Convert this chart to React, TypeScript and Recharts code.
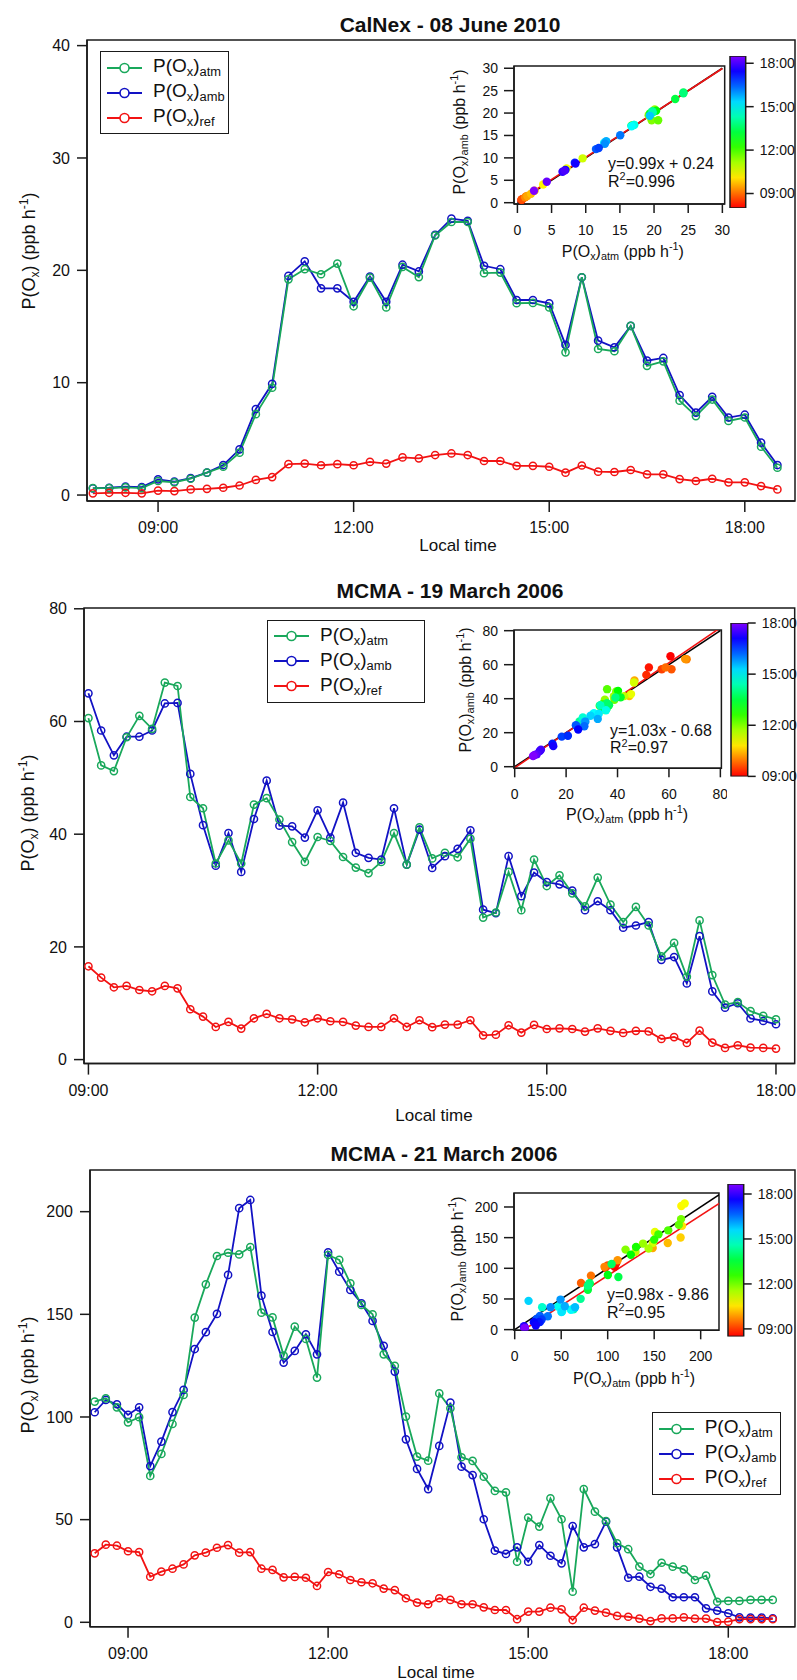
import React from "react";
import {
  LineChart, Line, XAxis, YAxis, Legend, ReferenceArea, ReferenceLine,
  ScatterChart, Scatter, ComposedChart, Bar,
} from "recharts";

const FONT = "'Liberation Sans', Arial, Helvetica, sans-serif";
const INK = "#1a1a1a";
const GREEN = "#19a85b";
const BLUE = "#1212c4";
const RED = "#f21313";

// ---------- CalNex, 08 June 2010 (15 min samples) ----------
const calnexTimes = [
  "08:00", "08:15", "08:30", "08:45", "09:00", "09:15", "09:30", "09:45",
  "10:00", "10:15", "10:30", "10:45", "11:00", "11:15", "11:30", "11:45",
  "12:00", "12:15", "12:30", "12:45", "13:00", "13:15", "13:30", "13:45",
  "14:00", "14:15", "14:30", "14:45", "15:00", "15:15", "15:30", "15:45",
  "16:00", "16:15", "16:30", "16:45", "17:00", "17:15", "17:30", "17:45",
  "18:00", "18:15", "18:30",
];
const calnexAtm = [
  0.62, 0.62, 0.68, 0.62, 1.25, 1.13, 1.45, 1.99, 2.52, 3.77, 7.2, 9.55,
  19.2, 20.1, 19.65, 20.6, 16.8, 19.35, 16.7, 20.3, 19.4, 23.1, 24.3, 24.3,
  19.75, 19.8, 17.07, 17.1, 16.7, 12.7, 19.38, 13.0, 12.8, 15.05, 11.5, 11.9,
  8.4, 7.03, 8.5, 6.6, 6.9, 4.3, 2.43,
];
const calnexAmb = [
  0.6, 0.65, 0.75, 0.7, 1.4, 1.19, 1.5, 1.99, 2.67, 4.07, 7.66, 9.9,
  19.5, 20.8, 18.4, 18.4, 17.2, 19.45, 17.2, 20.5, 19.9, 23.15, 24.6, 24.4,
  20.4, 20.1, 17.36, 17.36, 17.07, 13.36, 19.38, 13.74, 13.15, 15.05, 11.96, 12.2,
  8.9, 7.33, 8.75, 6.9, 7.15, 4.66, 2.67,
];
const calnexRef = [
  0.15, 0.2, 0.2, 0.15, 0.4, 0.35, 0.5, 0.55, 0.65, 0.85, 1.35, 1.6,
  2.75, 2.8, 2.65, 2.75, 2.65, 2.95, 2.8, 3.35, 3.27, 3.56, 3.7, 3.56,
  3.03, 3.03, 2.6, 2.6, 2.52, 1.99, 2.63, 2.08, 2.05, 2.23, 1.84, 1.84,
  1.42, 1.25, 1.45, 1.13, 1.13, 0.8, 0.5,
];
const calnexFit = { slope: 0.99, intercept: 0.24, eq: "y=0.99x + 0.24", r2: "0.996" };

// ---------- MCMA, 19 March 2006 (10 min samples) ----------
const mar19Times = [
  "09:00", "09:10", "09:20", "09:30", "09:40", "09:50",
  "10:00", "10:10", "10:20", "10:30", "10:40", "10:50",
  "11:00", "11:10", "11:20", "11:30", "11:40", "11:50",
  "12:00", "12:10", "12:20", "12:30", "12:40", "12:50",
  "13:00", "13:10", "13:20", "13:30", "13:40", "13:50",
  "14:00", "14:10", "14:20", "14:30", "14:40", "14:50",
  "15:00", "15:10", "15:20", "15:30", "15:40", "15:50",
  "16:00", "16:10", "16:20", "16:30", "16:40", "16:50",
  "17:00", "17:10", "17:20", "17:30", "17:40", "17:50",
  "18:00",
];
const mar19Atm = [
  60.6, 52.2, 51.2, 57.2, 61.0, 58.7,
  66.9, 66.3, 46.6, 44.6, 34.8, 38.9,
  34.8, 45.25, 46.4, 42.6, 38.6, 35.07,
  39.5, 38.8, 35.95, 34.07, 33.1, 35.07,
  40.2, 34.6, 41.2, 35.7, 36.7, 35.9,
  39.2, 25.2, 26.1, 33.3, 26.5, 35.5,
  30.8, 32.7, 29.5, 27.2, 32.3, 27.5,
  24.4, 27.1, 23.8, 18.3, 20.7, 14.7,
  24.7, 15.0, 9.76, 10.2, 8.6, 7.75,
  7.16,
];
const mar19Amb = [
  65.0, 58.4, 54.0, 57.3, 57.3, 58.4,
  63.2, 63.3, 50.7, 41.6, 34.4, 40.2,
  33.3, 42.7, 49.5, 41.5, 41.4, 39.4,
  44.25, 39.4, 45.6, 36.7, 35.8, 35.5,
  44.6, 34.6, 40.8, 34.0, 36.1, 37.4,
  40.7, 26.6, 26.0, 36.1, 29.0, 33.2,
  31.5, 31.1, 30.0, 26.5, 28.1, 26.5,
  23.4, 23.8, 24.4, 17.7, 18.2, 13.5,
  21.9, 12.1, 9.2, 10.0, 7.3, 6.85,
  6.27,
];
const mar19Ref = [
  16.56, 14.55, 12.83, 13.07, 12.35, 12.12,
  13.07, 12.65, 8.93, 7.63, 5.79, 6.68,
  5.5, 7.33, 8.1, 7.33, 7.15, 6.62,
  7.33, 6.8, 6.68, 6.03, 5.79, 5.79,
  7.33, 5.79, 6.98, 5.75, 6.21, 6.21,
  6.98, 4.31, 4.43, 6.09, 4.79, 6.15,
  5.43, 5.55, 5.43, 4.97, 5.55, 5.1,
  4.73, 5.1, 5.0, 3.66, 4.0, 2.95,
  5.13, 3.0, 2.07, 2.54, 2.13, 2.07,
  1.95,
];
const mar19Fit = { slope: 1.03, intercept: -0.68, eq: "y=1.03x - 0.68", r2: "0.97" };

// ---------- MCMA, 21 March 2006 (10 min samples) ----------
const mar21Times = [
  "08:30", "08:40", "08:50",
  "09:00", "09:10", "09:20", "09:30", "09:40", "09:50",
  "10:00", "10:10", "10:20", "10:30", "10:40", "10:50",
  "11:00", "11:10", "11:20", "11:30", "11:40", "11:50",
  "12:00", "12:10", "12:20", "12:30", "12:40", "12:50",
  "13:00", "13:10", "13:20", "13:30", "13:40", "13:50",
  "14:00", "14:10", "14:20", "14:30", "14:40", "14:50",
  "15:00", "15:10", "15:20", "15:30", "15:40", "15:50",
  "16:00", "16:10", "16:20", "16:30", "16:40", "16:50",
  "17:00", "17:10", "17:20", "17:30", "17:40", "17:50",
  "18:00", "18:10", "18:20", "18:30", "18:40",
];
const mar21Atm = [
  107.5, 109.1, 104.7,
  97.4, 99.9, 71.3, 82.0, 96.6, 110.7,
  148.4, 164.6, 178.4, 180.0, 179.2, 182.8,
  150.8, 148.5, 129.9, 144.0, 138.0, 119.2,
  178.9, 176.5, 165.1, 154.6, 150.0, 130.5,
  124.9, 100.2, 80.7, 78.7, 111.5, 104.2,
  80.4, 78.6, 70.9, 64.0, 63.3, 29.5,
  51.0, 46.6, 60.4, 50.2, 14.9, 64.9,
  53.9, 49.3, 38.5, 35.6, 27.1, 23.5,
  29.0, 27.1, 25.8, 20.6, 22.7, 10.0,
  10.4, 10.4, 10.9, 10.9, 10.9,
];
const mar21Amb = [
  102.3, 108.3, 106.2,
  101.0, 104.7, 76.1, 88.0, 102.4, 113.2,
  133.1, 141.3, 150.2, 169.2, 201.7, 205.7,
  159.1, 141.4, 126.5, 132.2, 140.3, 130.5,
  180.2, 170.8, 161.9, 155.4, 146.8, 134.7,
  122.1, 89.1, 74.7, 64.9, 85.9, 107.0,
  75.8, 71.7, 50.2, 34.9, 33.3, 36.5,
  29.5, 37.6, 32.4, 28.7, 46.9, 36.5,
  38.1, 49.0, 36.5, 21.7, 22.2, 17.3,
  16.4, 12.2, 12.2, 12.2, 6.8, 5.7,
  4.4, 2.4, 2.3, 2.3, 1.9,
];
const mar21Ref = [
  33.6, 37.8, 37.3,
  34.6, 34.2, 22.2, 24.7, 26.1, 28.2,
  32.6, 33.9, 36.3, 37.6, 33.9, 34.2,
  26.1, 25.5, 21.9, 22.1, 21.7, 17.7,
  24.5, 23.4, 20.6, 19.5, 19.0, 16.4,
  15.7, 11.7, 9.6, 8.8, 11.7, 10.9,
  8.8, 8.8, 7.3, 6.0, 6.0, 1.5,
  5.2, 5.2, 7.1, 6.3, 1.1, 7.1,
  5.7, 4.7, 3.1, 2.7, 1.8, 0.6,
  1.9, 1.9, 2.4, 1.8, 1.8, 0.1,
  0.3, 1.5, 1.5, 1.5, 1.5,
];
const mar21Fit = { slope: 0.98, intercept: -9.86, eq: "y=0.98x - 9.86", r2: "0.95" };

const HOUR_TICKS = [9, 12, 15, 18];
const GRAD_STOPS = [0, 0.1, 0.2, 0.3, 0.4, 0.5, 0.6, 0.7, 0.8, 0.9, 1];

const SERIES = [
  { key: "amb", sub: "amb", color: BLUE },
  { key: "atm", sub: "atm", color: GREEN },
  { key: "ref", sub: "ref", color: RED },
];
const LEGEND_ORDER = ["atm", "amb", "ref"];

const toHours = (s: string) => {
  const [h, m] = s.split(":").map(Number);
  return h + m / 60;
};
const fmtHour = (h: number) => `${String(Math.round(h)).padStart(2, "0")}:00`;
const rainbow = (f: number) =>
  `hsl(${Math.round(270 * Math.min(1, Math.max(0, f)))}, 100%, 50%)`;

const axisStroke = { stroke: INK, strokeWidth: 1.5 };

const Sub = ({ children }: any) => (
  <span style={{ fontSize: "0.68em", position: "relative", top: "0.3em" }}>{children}</span>
);
const Sup = ({ children }: any) => (
  <span style={{ fontSize: "0.68em", position: "relative", top: "-0.6em" }}>{children}</span>
);
const POx = ({ sub }: { sub?: string }) => (
  <>
    P(O<Sub>x</Sub>){sub ? <Sub>{sub}</Sub> : null}
  </>
);
const Units = () => (
  <>
    {" "}(ppb h<Sup>-1</Sup>)
  </>
);

function TextAt({ x, y, size, rotate, bold, align, children }: any) {
  const tx = align === "left" ? "0" : "-50%";
  return (
    <div
      style={{
        position: "absolute", left: x, top: y, whiteSpace: "nowrap", lineHeight: 1,
        fontSize: size, fontWeight: bold ? 700 : 400,
        transform: `translate(${tx}, -50%)${rotate ? " rotate(-90deg)" : ""}`,
      }}
    >
      {children}
    </div>
  );
}

function LegendBox({ width }: { width: number }) {
  return (
    <div
      style={{
        width, border: `1.5px solid ${INK}`, background: "#fff", padding: "3px 0",
        fontFamily: FONT, fontSize: 19, color: "#111", boxSizing: "border-box",
      }}
    >
      {LEGEND_ORDER.map((k) => {
        const s = SERIES.find((d) => d.key === k)!;
        return (
          <div key={k} style={{ display: "flex", alignItems: "center", height: 25, lineHeight: 1 }}>
            <svg width={46} height={14} style={{ flex: "none" }}>
              <line x1={6} y1={7} x2={41} y2={7} stroke={s.color} strokeWidth={2} />
              <circle cx={23.5} cy={7} r={4.5} fill="#fff" stroke={s.color} strokeWidth={1.6} />
            </svg>
            <span style={{ marginLeft: 6, position: "relative", top: -2 }}>
              <POx sub={s.sub} />
            </span>
          </div>
        );
      })}
    </div>
  );
}

function TimeSeries({ rows, plot, xDomain, yDomain, yTicks, legend }: any) {
  const left = plot.x - 80;
  const top = plot.y - 10;
  return (
    <div style={{ position: "absolute", left, top }}>
      <LineChart
        width={plot.w + 82}
        height={plot.h + 60}
        data={rows}
        margin={{ top: 10, right: 2, bottom: 10, left: 20 }}
      >
        <XAxis
          dataKey="t" type="number" domain={xDomain} allowDataOverflow
          ticks={HOUR_TICKS} interval={0} tickFormatter={fmtHour}
          height={40} tickSize={11} tickMargin={10}
          axisLine={axisStroke} tickLine={axisStroke}
          tick={{ fill: "#111", fontSize: 16, fontFamily: FONT }}
        />
        <YAxis
          type="number" domain={yDomain} allowDataOverflow ticks={yTicks} interval={0}
          width={60} tickSize={10} tickMargin={7}
          axisLine={axisStroke} tickLine={axisStroke}
          tick={{ fill: "#111", fontSize: 16, fontFamily: FONT }}
        />
        <ReferenceArea
          x1={xDomain[0]} x2={xDomain[1]} y1={yDomain[0]} y2={yDomain[1]}
          fill="none" stroke={INK} strokeWidth={1.5} ifOverflow="visible"
        />
        {SERIES.map((s) => (
          <Line
            key={s.key} dataKey={s.key} type="linear" stroke={s.color} strokeWidth={1.8}
            dot={{ r: 3.6, fill: "none", stroke: s.color, strokeWidth: 1.5 }}
            activeDot={false} isAnimationActive={false}
          />
        ))}
        <Legend
          layout="vertical" align="center" verticalAlign="middle"
          content={() => <LegendBox width={legend.w} />}
          wrapperStyle={{ left: legend.x - left, top: legend.y - top, width: legend.w }}
        />
      </LineChart>
    </div>
  );
}

function Inset({ atm, amb, hours, fit, plot, xDomain, yDomain, ticks, lineMax }: any) {
  const tMin = Math.min(...hours);
  const tMax = Math.max(...hours);
  const pts = atm.map((x: number, i: number) => ({
    x, y: amb[i], c: rainbow((hours[i] - tMin) / (tMax - tMin)),
  }));
  const tick = { fill: "#111", fontSize: 14, fontFamily: FONT };
  return (
    <div style={{ position: "absolute", left: plot.x - 60, top: plot.y - 10 }}>
      <ScatterChart
        width={plot.w + 65}
        height={plot.h + 55}
        margin={{ top: 10, right: 5, bottom: 5, left: 20 }}
      >
        <XAxis
          dataKey="x" type="number" domain={xDomain} allowDataOverflow ticks={ticks} interval={0}
          height={40} tickSize={9} tickMargin={12} axisLine={axisStroke} tickLine={axisStroke} tick={tick}
        />
        <YAxis
          dataKey="y" type="number" domain={yDomain} allowDataOverflow ticks={ticks} interval={0}
          width={40} tickSize={10} tickMargin={6} axisLine={axisStroke} tickLine={axisStroke} tick={tick}
        />
        <ReferenceArea
          x1={xDomain[0]} x2={xDomain[1]} y1={yDomain[0]} y2={yDomain[1]}
          fill="#fff" fillOpacity={1} stroke={INK} strokeWidth={1.5} ifOverflow="visible"
        />
        <Scatter
          data={pts} isAnimationActive={false}
          shape={(p: any) => <circle cx={p.cx} cy={p.cy} r={4.2} fill={p.payload.c} />}
        />
        <ReferenceLine
          segment={[{ x: 0, y: 0 }, { x: lineMax, y: lineMax }]}
          stroke="#000" strokeWidth={1.6} ifOverflow="hidden"
        />
        <ReferenceLine
          segment={[
            { x: 0, y: fit.intercept },
            { x: lineMax, y: fit.slope * lineMax + fit.intercept },
          ]}
          stroke={RED} strokeWidth={1.6} ifOverflow="hidden"
        />
      </ScatterChart>
    </div>
  );
}

function ColorBar({ id, bar, hours }: any) {
  const tMin = Math.min(...hours);
  const tMax = Math.max(...hours);
  const data = [{ k: "time", span: [tMin, tMax] }];
  return (
    <div style={{ position: "absolute", left: bar.x - 5, top: bar.y - 10 }}>
      <ComposedChart
        width={bar.w + 57}
        height={bar.h + 20}
        data={data}
        barCategoryGap={0}
        margin={{ top: 10, right: 2, bottom: 10, left: 5 }}
      >
        <XAxis dataKey="k" type="category" hide />
        <YAxis
          type="number" orientation="right" domain={[tMin, tMax]} allowDataOverflow
          ticks={HOUR_TICKS} interval={0} tickFormatter={fmtHour}
          width={50} tickSize={8} tickMargin={6} axisLine={false} tickLine={axisStroke}
          tick={{ fill: "#111", fontSize: 14, fontFamily: FONT }}
        />
        <Bar
          dataKey="span" barSize={bar.w} isAnimationActive={false}
          shape={(p: any) => (
            <g>
              <defs>
                <linearGradient id={id} x1="0" y1="1" x2="0" y2="0">
                  {GRAD_STOPS.map((f) => (
                    <stop key={f} offset={f} stopColor={rainbow(f)} />
                  ))}
                </linearGradient>
              </defs>
              <rect
                x={p.x} y={p.y} width={p.width} height={p.height}
                fill={`url(#${id})`} stroke={INK} strokeWidth={1.5}
              />
            </g>
          )}
        />
      </ComposedChart>
    </div>
  );
}

function Panel({ id, title, times, atm, amb, ref, fit, L }: any) {
  const hours = times.map(toHours);
  const rows = hours.map((t: number, i: number) => ({ t, atm: atm[i], amb: amb[i], ref: ref[i] }));
  return (
    <>
      <TextAt x={L.title[0]} y={L.title[1]} size={21} bold>{title}</TextAt>
      <TimeSeries
        rows={rows} plot={L.plot} xDomain={L.xDomain} yDomain={L.yDomain}
        yTicks={L.yTicks} legend={L.legend}
      />
      <TextAt x={L.yLabel[0]} y={L.yLabel[1]} size={18} rotate>
        <POx /><Units />
      </TextAt>
      <TextAt x={L.xLabel[0]} y={L.xLabel[1]} size={17}>Local time</TextAt>
      <Inset
        atm={atm} amb={amb} hours={hours} fit={fit} plot={L.inset.plot}
        xDomain={L.inset.xDomain} yDomain={L.inset.yDomain} ticks={L.inset.ticks}
        lineMax={L.inset.lineMax}
      />
      <TextAt x={L.inset.yLabel[0]} y={L.inset.yLabel[1]} size={16} rotate>
        <POx sub="amb" /><Units />
      </TextAt>
      <TextAt x={L.inset.xLabel[0]} y={L.inset.xLabel[1]} size={16}>
        <POx sub="atm" /><Units />
      </TextAt>
      <TextAt x={L.inset.fitText[0]} y={L.inset.fitText[1]} size={16} align="left">{fit.eq}</TextAt>
      <TextAt x={L.inset.fitText[0]} y={L.inset.fitText[2]} size={16} align="left">
        R<Sup>2</Sup>={fit.r2}
      </TextAt>
      <ColorBar id={`cb-${id}`} bar={L.colorbar} hours={hours} />
    </>
  );
}

const LAYOUT1 = {
  title: [450, 23.5],
  plot: { x: 87, y: 40, w: 708, h: 461 },
  xDomain: [7.91, 18.77], yDomain: [-0.53, 40.5], yTicks: [0, 10, 20, 30, 40],
  yLabel: [29, 251], xLabel: [458, 545],
  legend: { x: 100, y: 51, w: 129 },
  inset: {
    plot: { x: 514.3, y: 66, w: 210.7, h: 138 },
    xDomain: [-0.5, 30.34], yDomain: [-0.29, 30.5], ticks: [0, 5, 10, 15, 20, 25, 30],
    lineMax: 30, yLabel: [460, 131.7], xLabel: [622.8, 252], fitText: [608, 164, 182],
  },
  colorbar: { x: 730, y: 56, w: 15.7, h: 152 },
};
const LAYOUT2 = {
  title: [450, 590],
  plot: { x: 84.3, y: 607.7, w: 710.7, h: 455.6 },
  xDomain: [8.942, 18.245], yDomain: [-0.71, 80.14], yTicks: [0, 20, 40, 60, 80],
  yLabel: [28, 813], xLabel: [434, 1115],
  legend: { x: 267, y: 620, w: 158 },
  inset: {
    plot: { x: 514.3, y: 630, w: 207.4, h: 138.3 },
    xDomain: [-0.27, 80.4], yDomain: [-0.94, 80.4], ticks: [0, 20, 40, 60, 80],
    lineMax: 80, yLabel: [466, 690], xLabel: [627, 815], fitText: [610, 730.7, 748.3],
  },
  colorbar: { x: 731, y: 623.3, w: 16.7, h: 153.4 },
};
const LAYOUT3 = {
  title: [444, 1153],
  plot: { x: 90, y: 1170, w: 705, h: 456.7 },
  xDomain: [8.43, 19.0], yDomain: [-2.14, 220.3], yTicks: [0, 50, 100, 150, 200],
  yLabel: [28, 1375], xLabel: [436, 1672],
  legend: { x: 651.7, y: 1412, w: 129.3 },
  inset: {
    plot: { x: 514.3, y: 1192.7, w: 205, h: 137.3 },
    xDomain: [-0.75, 219.7], yDomain: [-1.1, 222.8], ticks: [0, 50, 100, 150, 200],
    lineMax: 220, yLabel: [458, 1259], xLabel: [634, 1379], fitText: [607, 1295, 1312.7],
  },
  colorbar: { x: 728.3, y: 1184.3, w: 15.7, h: 152.4 },
};

export default function App() {
  return (
    <div
      style={{
        position: "absolute", left: 0, top: 0, width: 797, height: 1680, overflow: "hidden",
        background: "#fff", fontFamily: FONT, color: "#111",
      }}
    >
      <Panel
        id="calnex" title="CalNex - 08 June 2010" times={calnexTimes}
        atm={calnexAtm} amb={calnexAmb} ref={calnexRef} fit={calnexFit} L={LAYOUT1}
      />
      <Panel
        id="mar19" title="MCMA - 19 March 2006" times={mar19Times}
        atm={mar19Atm} amb={mar19Amb} ref={mar19Ref} fit={mar19Fit} L={LAYOUT2}
      />
      <Panel
        id="mar21" title="MCMA - 21 March 2006" times={mar21Times}
        atm={mar21Atm} amb={mar21Amb} ref={mar21Ref} fit={mar21Fit} L={LAYOUT3}
      />
    </div>
  );
}
